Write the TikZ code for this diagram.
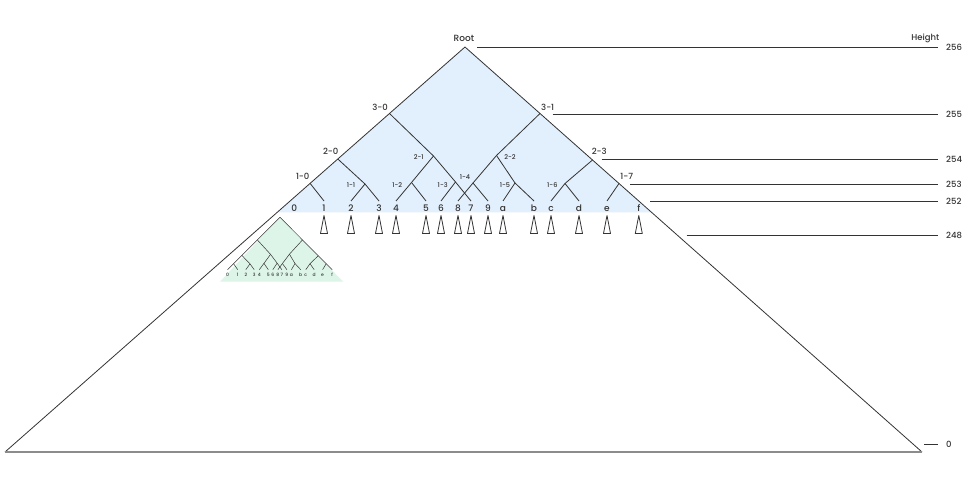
\documentclass[tikz,border=0pt]{standalone}
\usepackage{fontspec}
\setmainfont{Poppins}[UprightFont={* Medium}]
\usetikzlibrary{positioning}
\definecolor{ink}{HTML}{333333}
\definecolor{basegray}{HTML}{8C8C8C}
\definecolor{treeblue}{HTML}{E2EFFC}
\definecolor{minigreen}{HTML}{DCF5E8}

% tree points in pixel coordinates (y downwards)
\newcommand{\treepoints}{root/465/47, n30/389.5/113.5, n31/540/113.5,
  n20/337.8/159, n21/433.5/156, n22/496.5/155.5, n23/592.5/160,
  n10/310.2/183.5, n11/365/184, n12/411.5/182.5, n13/455.5/182, n14/473/183,
  n15/515/183, n16/565/183.5, n17/619/183.5,
  l0/290.1/201, l1/324/201, l2/351/201, l3/379/201, l4/396/201, l5/426/201,
  l6/441/201, l8/458/201, l7/471/201, l9/488/201, la/503/201, lb/534/201,
  lc/551/201, ld/579/201, le/607/201, lf/638.8/201}
\newcommand{\treeedges}{n30/n21, n31/n22, n20/n11, n23/n16, n21/n12, n21/n13,
  n22/n14, n22/n15, n10/l1, n11/l2, n11/l3, n12/l4, n12/l5, n13/l6, n13/l7,
  n14/l8, n14/l9, n15/la, n15/lb, n16/lc, n16/ld, n17/le}

\begin{document}
\begin{tikzpicture}[x=1pt, y=-1pt, line join=round,
  edge/.style={draw=ink, line width=0.8pt},
  miniedge/.style={draw=ink, line width=0.5pt},
  subtree/.style={draw=ink, line width=0.8pt},
  hline/.style={draw=ink, line width=0.8pt},
  lab/.style={font=\fontsize{8.5}{10}\selectfont, text=ink, inner sep=0pt},
  smalllab/.style={font=\fontsize{6.5}{8}\selectfont, text=ink, inner sep=0pt},
  leaflab/.style={font=\fontsize{9}{10}\selectfont, text=ink, inner sep=0pt, text height=6.5pt, text depth=0pt},
  minilab/.style={font=\fontsize{4.5}{5}\selectfont, text=ink, inner sep=0pt, text height=3.2pt, text depth=0pt},
  hlab/.style={font=\fontsize{8.5}{10}\selectfont, text=ink, inner sep=0pt, anchor=west}]
\useasboundingbox (0,0) rectangle (970,497);

% big tree and the small copy
\foreach \n/\x/\y in \treepoints {\coordinate (\n) at (\x,\y);}
\begin{scope}[shift={(280,217.3)}, xscale=0.3, yscale=0.34, shift={(-465,-47)}]
\foreach \n/\x/\y in \treepoints {\coordinate (m\n) at (\x,\y);}
\end{scope}
\coordinate (bl) at (5,452); \coordinate (br) at (922,452);
\coordinate (bandl) at (277,212.5); \coordinate (bandr) at (651.7,212.5);
\coordinate (gl) at (220,281.7); \coordinate (gr) at (343.3,281.7);

\fill[treeblue] (root) -- (bandl) -- (bandr) -- cycle;
\fill[minigreen] (mroot) -- (gl) -- (gr) -- cycle;
\draw[edge] (bl) -- (root) -- (br);
\draw[basegray, line width=1.4pt] (bl) -- (br);
\foreach \a/\b in \treeedges {\draw[edge] (\a) -- (\b);}
\foreach \a/\b in \treeedges {\draw[miniedge] (m\a) -- (m\b);}
\draw[miniedge] (ml0) -- (mn10) -- (mn20) -- (mn30) -- (mroot) -- (mn31) -- (mn23) -- (mn17) -- (mlf);

% node labels
\node[lab, font=\fontsize{9}{10}\selectfont] (troot) at (464,38) {Root};
\node[lab] (t30) at (380,107) {3-0};
\node[lab] (t31) at (547.7,107) {3-1};
\node[lab] (t20) at (330.7,151.7) {2-0};
\node[smalllab] (t21) at (418.7,156.7) {2-1};
\node[smalllab] (t22) at (510,156.7) {2-2};
\node[lab] (t23) at (599.3,151.7) {2-3};
\node[lab] (t10) at (302.7,176.7) {1-0};
\node[smalllab] (t11) at (351,185) {1-1};
\node[smalllab] (t12) at (397.3,185) {1-2};
\node[smalllab] (t13) at (442.7,185) {1-3};
\node[smalllab] (t14) at (465,176.7) {1-4};
\node[smalllab] (t15) at (505,185) {1-5};
\node[smalllab] (t16) at (552.3,185) {1-6};
\node[lab] (t17) at (626.7,176.7) {1-7};

% leaves
\node[leaflab] (t0) at (294.3,208) {0};
\foreach \l in {1,2,3,4,5,6,7,8,9,a,b,c,d,e,f} {
  \node[leaflab, below=3.5pt of l\l] (t\l) {\l};
  \draw[subtree] ([yshift=-14.5pt]l\l) -- ++(-3.5,18) -- ++(7,0) -- cycle;
}
\foreach \l in {0,1,2,3,4,5,6,7,8,9,a,b,c,d,e,f} {\node[minilab, below=3.5pt of ml\l] (mt\l) {\l};}

% heights
\node[hlab, anchor=base east] (theight) at (939.5,40.5) {Height};
\foreach \h/\sx/\y in {256/477/47, 255/552.5/114.3, 254/601.7/159.3, 253/630/184.3, 252/650/201.7, 248/686.7/235, 0/924/444} {
  \coordinate (s\h) at (\sx,\y); \coordinate (e\h) at (938,\y);
  \node[hlab] (h\h) at (946,\y) {\h};
  \draw[hline] (s\h) -- (e\h);
}
\end{tikzpicture}
\end{document}
